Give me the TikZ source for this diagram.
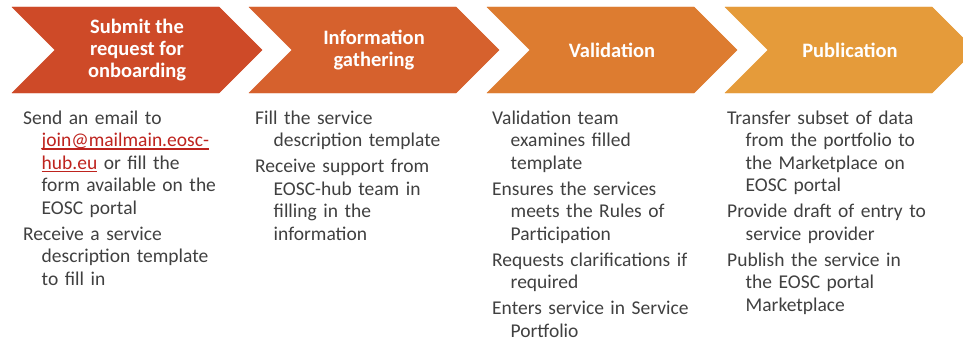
\documentclass[tikz,border=0pt]{standalone}
\usepackage{fontspec}
\setmainfont{Carlito}
\usepackage{xcolor}
\definecolor{sub}{RGB}{206, 74, 40}
\definecolor{inf}{RGB}{214, 97, 45}
\definecolor{val}{RGB}{221, 124, 48}
\definecolor{pub}{RGB}{229, 155, 58}
\definecolor{txt}{RGB}{64, 64, 64}
\definecolor{lnk}{RGB}{190, 35, 30}

\newsavebox{\mailbox}
\newcommand{\hangpar}{\hangindent=18.5pt\hangafter=1\relax}
\newcommand{\mailul}[1]{\sbox\mailbox{\color{lnk}#1}\rlap{\color{lnk}\rule[-3pt]{\wd\mailbox}{1.1pt}}\usebox\mailbox}

\tikzset{
    chevtitle/.style={text=white, font=\bfseries\fontsize{20.5}{22}\selectfont, align=center, inner sep=0},
    chevtext/.style={text=txt, font=\fontsize{19.5}{22.5}\selectfont\setlength{\parskip}{3.5pt}, text width=235pt, align=left, anchor=base west, inner sep=0}
}

\begin{document}
\begin{tikzpicture}[x=1pt, y=-1pt]
        \clip (0, 0) rectangle (963, 345);
        \filldraw[color=sub, fill=sub] (12, 7) -- (219, 7) -- (262, 50) -- (219, 93) -- (12, 93) -- (55, 50) -- cycle;
        \filldraw[color=inf, fill=inf] (249, 7) -- (456, 7) -- (499, 50) -- (456, 93) -- (249, 93) -- (292, 50) -- cycle;
        \filldraw[color=val, fill=val] (487, 7) -- (694, 7) -- (737, 50) -- (694, 93) -- (487, 93) -- (530, 50) -- cycle;
        \filldraw[color=pub, fill=pub] (725, 7) -- (932, 7) -- (975, 50) -- (932, 93) -- (725, 93) -- (768, 50) -- cycle;

        \node[chevtitle] (sub) at (137, 50) {Submit the\\request for\\onboarding};
        \node[chevtitle] (inf) at (374, 50) {Information\\gathering};
        \node[chevtitle] (val) at (612, 50) {Validation};
        \node[chevtitle] (pub) at (850, 50) {Publication};

        \node[chevtext] (subnote) at (23, 124) {\hangpar Send an email to\newline \mailul{join@mailmain.eosc-}\newline \mailul{hub.eu} or fill the\newline form available on the\newline EOSC portal\par
            \hangpar Receive a service\newline description template\newline to fill in\par};
        \node[chevtext] (infnote) at (255, 124) {\hangpar Fill the service\newline description template\par
            \hangpar Receive support from\newline EOSC-hub team in\newline filling in the\newline information\par};
        \node[chevtext] (valnote) at (492, 124) {\hangpar Validation team\newline examines filled\newline template\par
            \hangpar Ensures the services\newline meets the Rules of\newline Participation\par
            \hangpar Requests clarifications if\newline required\par
            \hangpar Enters service in Service\newline Portfolio\par};
        \node[chevtext] (pubnote) at (727, 124) {\hangpar Transfer subset of data\newline from the portfolio to\newline the Marketplace on\newline EOSC portal\par
            \hangpar Provide draft of entry to\newline service provider\par
            \hangpar Publish the service in\newline the EOSC portal\newline Marketplace\par};
    \end{tikzpicture}
\end{document}
